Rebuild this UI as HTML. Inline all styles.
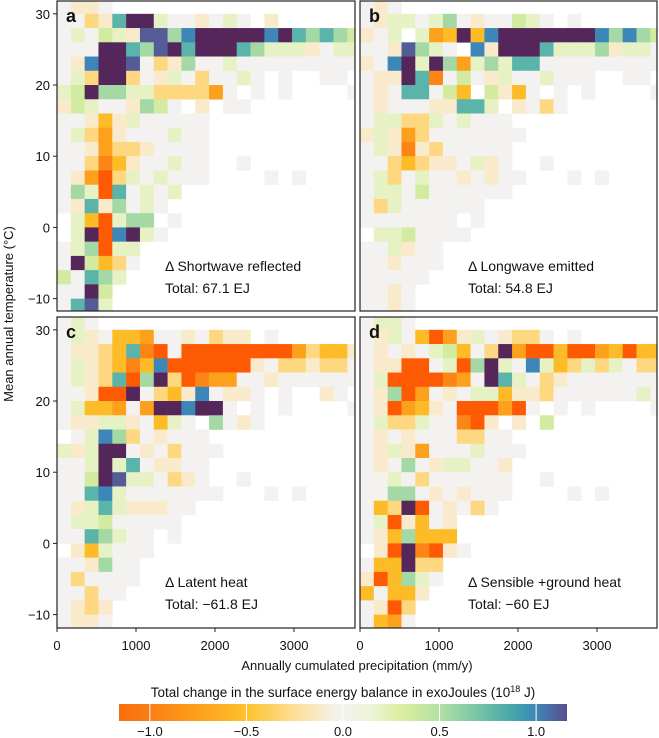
<!DOCTYPE html>
<html><head><meta charset="utf-8"><style>
body{margin:0;background:#fff;}
svg{display:block;font-family:"Liberation Sans",Arial,sans-serif;}
</style></head><body>
<svg id="chart" width="659" height="738" viewBox="0 0 659 738" xmlns="http://www.w3.org/2000/svg"></svg>
<script>
// ---- data ----
const xBinWidth = 175;           // mm/y per column
const yBinEdgeTop = 32;          // °C top of first row
const yBinHeight = 2;            // °C per row
const xTicks = [0, 1000, 2000, 3000];
const xTickLabels = ["0", "1000", "2000", "3000"];
const yTicks = [30, 20, 10, 0, -10];
const yTickLabels = ["30", "20", "10", "0", "\u221210"];
const cbTicks = [-1.0, -0.5, 0.0, 0.5, 1.0];
const cbTickLabels = ["\u22121.0", "\u22120.5", "0.0", "0.5", "1.0"];
const levelCodes = ['0','a','b','c','d','e','g','f','A','B','C','D','E','F'];
const levelValues = [0, 0.2, 0.35, 0.55, 0.8, 1.0, 1.12, 1.5, -0.12, -0.3, -0.55, -0.75, -0.95, -1.5];
const panelLetters = ["a", "b", "c", "d"];
const panelTitles = ["\u0394 Shortwave reflected", "\u0394 Longwave emitted", "\u0394 Latent heat", "\u0394 Sensible +ground heat"];
const panelTotals = ["Total: 67.1 EJ", "Total: 54.8 EJ", "Total: \u221261.8 EJ", "Total: \u221260 EJ"];
const gridA = ["0AA0","00BAdffa00A0a0.A","0a0baAggcefffffefdcdcb","000ffdcgfdfffdcaaaA0aa","0Aeffg0BAc00a000000000","0aBffB0Aa0B00a0.0..00","abfccaaBBBBD0.0.0....0","Aba00Acb0.A.00","00ACAa00000","0aBDA000a00","00ADBBA0000","00BECA00a00..0","0ADFBa0a000....0.0","0caFd0a0a","0AdAc0a0",".aCFacc.0",".afFefa0","0acFaa","0fbCB0","b0dca","00fb","0dga"];
const gridB = ["0A0","0Aaa0ac0A00ba0.0","A0a.aDCfCefffffffececb","00Agca0.eAfffdaaacAaa0","A0efafcDacadd000000000","0AAfdE0b0Aa00a000..00","0A0dd0bC.bAC0.0.0....0","0A000AAdda.A0B0","0aaBBa0a000","AaADB0000000","0aAEAB00000","00BCBAA0aA0..0","0aB0a00A0A00...0.0","0aa0b000000","0Ba000000","0000000.0",".aab0000","00aA00","00A000","00000","00A0","00A0"];
const gridC = ["0a0","0aA0CCD00A0BAA.0","0AABCdEF0FFFFFFFFDBCCA","0aABCECeFFFFFFA0BBABB0","0aABdFcfBFEDD00A000000","00AFFf0BCAe0AA0.0..A0","0aCCD0Dffeff0.0.0....0","0AAaaA0Ca0.c0A0",".0aecB0A000","aAaff0A0B000","00afad0AA00","00bfgaa0BA0..0","00dea0000000...0.0","0AadaAAA00","0aab00000","00dca00.0",".ACa000.","00Ac00","0B0000","00B00","0ABA","0AA0"];
const gridD = ["0aa0","0Aa0CFDAa0ABB0.0","0A0A0abC0BfDFFCFFDCFCC","0AAFF0aFcfa0eaCBaBa0BB","0aFFFFED0fda0BA0000000","0AcFD0A0aaCAAB000000a0","0AFDCA0FFFDF0.0.0....0","0aBBa00EFA.A.b.","0A0A000BB00","0AaAD000a000","0A0c0Aaa00A","00a0B000000..0","00cc0A0A000....0.0","0CBfF0A0B0","0aFAC0A.","0ACcCCC.",".AFfEFA0","0CCfBB.","AFCca0","C0CCA","0AFB","0CD0"];
const grids = [gridA, gridB, gridC, gridD];

// ---- layout ----
const NS = "http://www.w3.org/2000/svg";
const svg = document.getElementById("chart");
const panels = [
  {x0:57, x1:355, y0:1, y1:311, left:true, bottom:false},
  {x0:360, x1:657, y0:1, y1:311, left:false, bottom:false},
  {x0:57, x1:355, y0:317, y1:628, left:true, bottom:true},
  {x0:360, x1:657, y0:317, y1:628, left:false, bottom:true}
];
const pxPerMM = 0.079, pxPerDeg = 7.12, yTopVal = 31.8;
function xScale(p, v){ return p.x0 + v * pxPerMM; }
function yScale(p, v){ return p.y0 + (yTopVal - v) * pxPerDeg; }

const stops = [[-1.5,[254,90,4]],[-1.16,[249,110,14]],[-1.0,[251,126,20]],[-0.75,[253,160,28]],[-0.5,[253,194,42]],[-0.25,[253,222,150]],[-0.1,[249,236,212]],[0,[243,242,240]],[0.15,[236,244,214]],[0.3,[220,238,160]],[0.5,[180,224,165]],[0.7,[117,196,166]],[0.9,[65,163,171]],[1.0,[61,134,184]],[1.16,[90,78,140]],[1.5,[85,38,90]]];
function cmap(v){
  if (v <= stops[0][0]) v = stops[0][0];
  if (v >= stops[stops.length-1][0]) v = stops[stops.length-1][0];
  for (let i=0;i<stops.length-1;i++){
    const a=stops[i], b=stops[i+1];
    if (v>=a[0] && v<=b[0]){
      const t=(v-a[0])/(b[0]-a[0]||1);
      const c=a[1].map((q,k)=>Math.round(q+(b[1][k]-q)*t));
      return "rgb("+c.join(",")+")";
    }
  }
  return "#fff";
}
function mk(tag, attrs, parent){
  const e=document.createElementNS(NS,tag);
  for (const k in attrs) e.setAttribute(k, attrs[k]);
  (parent||svg).appendChild(e);
  return e;
}

const defs = mk("defs", {});
panels.forEach((p, pi) => {
  const cp = mk("clipPath", {id:"clip"+pi}, defs);
  mk("rect", {x:p.x0, y:p.y0, width:p.x1-p.x0, height:p.y1-p.y0}, cp);

  const g = mk("g", {"clip-path":"url(#clip"+pi+")"});
  
  
  const grid = grids[pi];
  grid.forEach((row, ri) => {
    for (let ci=0; ci<row.length; ci++){
      const ch = row[ci];
      const idx = levelCodes.indexOf(ch);
      if (idx < 0) continue;
      const val = levelValues[idx];
      const tTop = yBinEdgeTop - ri*yBinHeight;
      const xa = xScale(p, ci*xBinWidth), xb = xScale(p, (ci+1)*xBinWidth);
      const ya = yScale(p, tTop), yb = yScale(p, tTop - yBinHeight);
      const r = mk("rect", {x:xa.toFixed(2), y:ya.toFixed(2), width:(xb-xa+0.3).toFixed(2), height:(yb-ya+0.3).toFixed(2), fill:cmap(val)}, g);
      
      
    }
  });

  const frame = mk("rect", {x:p.x0, y:p.y0, width:p.x1-p.x0, height:p.y1-p.y0, fill:"none", stroke:"#222", "stroke-width":1.2});
  
  

  const lt = mk("text", {x:p.x0+9, y:p.y0+21, "font-size":18, "font-weight":"bold", fill:"#111"});
  lt.textContent = panelLetters[pi];
  
  

  const t1 = mk("text", {x:p.x0+108, y:p.y0+270, "font-size":14, fill:"#111"});
  t1.textContent = panelTitles[pi];
  
  
  const t2 = mk("text", {x:p.x0+108, y:p.y0+292, "font-size":14, fill:"#111"});
  t2.textContent = panelTotals[pi];
  
  

  if (p.left){
    yTicks.forEach((v, i) => {
      const y = yScale(p, v);
      const tk = mk("line", {x1:p.x0-4, x2:p.x0, y1:y, y2:y, stroke:"#222", "stroke-width":1});
      
      
      const tl = mk("text", {x:p.x0-7, y:y+5, "font-size":13, "text-anchor":"end", fill:"#111"});
      tl.textContent = yTickLabels[i];
      
      
    });
  }
  if (p.bottom){
    xTicks.forEach((v, i) => {
      const x = xScale(p, v);
      const tk = mk("line", {x1:x, x2:x, y1:p.y1, y2:p.y1+4, stroke:"#222", "stroke-width":1});
      
      
      const tl = mk("text", {x:x, y:p.y1+22, "font-size":13, "text-anchor":"middle", fill:"#111"});
      tl.textContent = xTickLabels[i];
      
      
    });
  }
});

// axis titles
const yt = mk("text", {x:0, y:0, "font-size":13, "text-anchor":"middle", fill:"#111", transform:"translate(13,314) rotate(-90)"});
yt.textContent = "Mean annual temperature (\u00B0C)";


const xt = mk("text", {x:357, y:670, "font-size":13, "text-anchor":"middle", fill:"#111"});
xt.textContent = "Annually cumulated precipitation (mm/y)";



// colorbar
const cbMin = -1.16, cbMax = 1.16, cbX0 = 119, cbX1 = 567, cbY = 704, cbH = 17;
function cbScale(v){ return cbX0 + (v - cbMin) / (cbMax - cbMin) * (cbX1 - cbX0); }
const lg = mk("linearGradient", {id:"cbgrad", x1:"0", x2:"1", y1:"0", y2:"0"}, defs);
for (let i=0;i<=40;i++){
  const v = cbMin + (cbMax-cbMin)*i/40;
  mk("stop", {offset:(i/40*100).toFixed(1)+"%", "stop-color":cmap(v)}, lg);
}
const cbt = mk("text", {x:343, y:697, "font-size":13.5, "text-anchor":"middle", fill:"#111"});
cbt.textContent = "Total change in the surface energy balance in exoJoules (10";
const sup = mk("tspan", {dy:-5, "font-size":9}, cbt); sup.textContent = "18";
const rest = mk("tspan", {dy:5}, cbt); rest.textContent = " J)";


const cb = mk("rect", {x:cbX0, y:cbY, width:cbX1-cbX0, height:cbH, fill:"url(#cbgrad)"});


cbTicks.forEach((v, i) => {
  const x = cbScale(v);
  const tk = mk("line", {x1:x, x2:x, y1:cbY, y2:cbY+cbH, stroke:"#fff", "stroke-width":1});
  
  
  const tl = mk("text", {x:x, y:736, "font-size":13, "text-anchor":"middle", fill:"#111"});
  tl.textContent = cbTickLabels[i];
  
  
});
</script>
</body></html>
